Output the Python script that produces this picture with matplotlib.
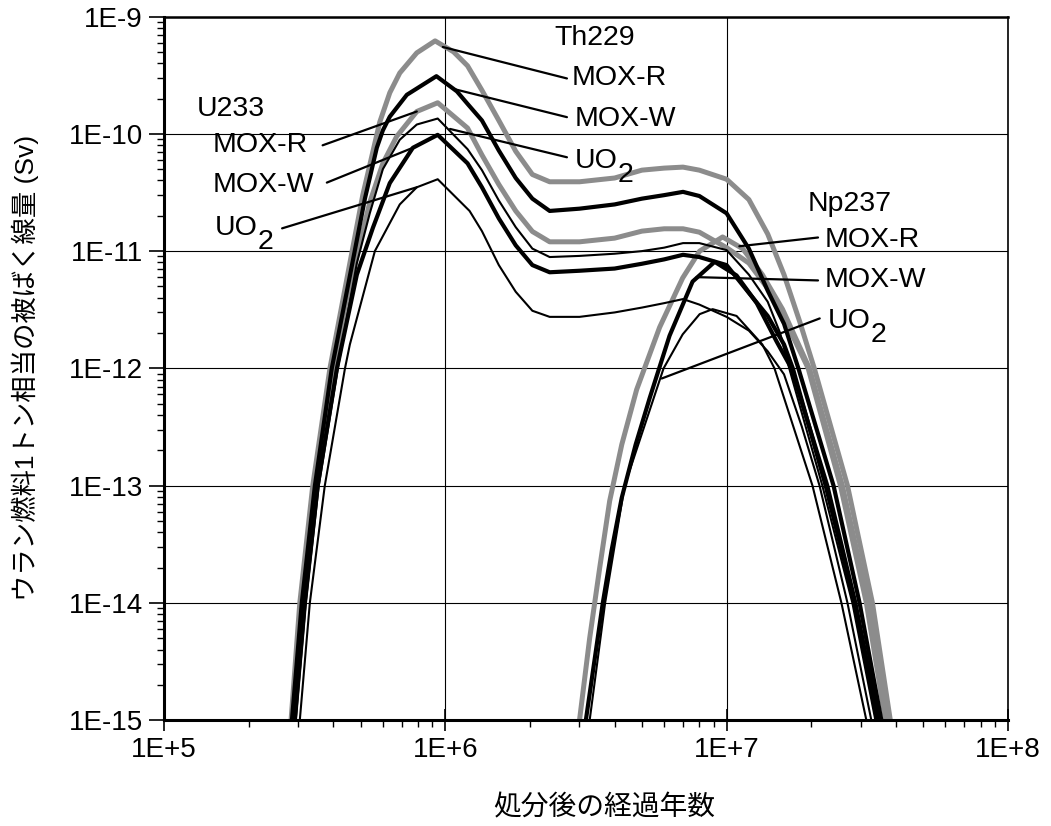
import matplotlib
matplotlib.use('Agg')
import matplotlib.pyplot as plt
import numpy as np
from matplotlib.ticker import LogLocator, NullFormatter

plt.rcParams['font.family'] = ['Liberation Sans', 'Noto Sans CJK JP']

# 軸の目盛り
x_ticks = [1e5, 1e6, 1e7, 1e8]
x_tick_labels = ['1E+5', '1E+6', '1E+7', '1E+8']
y_ticks = [1e-15, 1e-14, 1e-13, 1e-12, 1e-11, 1e-10, 1e-9]
y_tick_labels = ['1E-15', '1E-14', '1E-13', '1E-12', '1E-11', '1E-10', '1E-9']

# Th229 (年, Sv)
t_th_moxr = [2.83e5, 3.04e5, 3.38e5, 3.89e5, 4.58e5, 5.09e5, 5.85e5, 6.35e5, 6.89e5, 7.92e5, 9.2e5,
             1.07e6, 1.2e6, 1.35e6, 1.55e6, 1.78e6, 2.04e6, 2.35e6, 3e6, 4e6, 5e6, 6e6, 7e6,
             8e6, 1e7, 1.2e7, 1.4e7, 1.6e7, 1.82e7, 2.05e7, 2.69e7, 3.3e7, 3.82e7]
d_th_moxr = [1e-15, 1e-14, 1e-13, 1e-12, 7.9e-12, 3.0e-11, 1.26e-10, 2.24e-10, 3.3e-10, 4.9e-10, 6.2e-10,
             5.0e-10, 3.8e-10, 2.35e-10, 1.3e-10, 7.1e-11, 4.5e-11, 3.9e-11, 3.9e-11, 4.2e-11, 4.9e-11, 5.1e-11, 5.2e-11,
             4.9e-11, 4.1e-11, 2.75e-11, 1.4e-11, 6.3e-12, 2.5e-12, 1e-12, 1e-13, 1e-14, 1e-15]

t_th_moxw = [2.85e5, 3.09e5, 3.44e5, 3.95e5, 4.66e5, 5.18e5, 5.71e5, 6.0e5, 6.35e5, 7.3e5, 9.3e5,
             1.1e6, 1.2e6, 1.35e6, 1.55e6, 1.78e6, 2.04e6, 2.35e6, 3e6, 4e6, 5e6, 6e6, 7e6,
             8e6, 1e7, 1.2e7, 1.4e7, 1.6e7, 1.8e7, 2.4e7, 2.97e7, 3.55e7]
d_th_moxw = [1e-15, 1e-14, 1e-13, 1e-12, 7.6e-12, 2.8e-11, 7.6e-11, 1.07e-10, 1.4e-10, 2.15e-10, 3.1e-10,
             2.3e-10, 1.8e-10, 1.3e-10, 7.2e-11, 4.2e-11, 2.8e-11, 2.2e-11, 2.3e-11, 2.5e-11, 2.8e-11, 3.0e-11, 3.2e-11,
             2.95e-11, 2.1e-11, 1.05e-11, 4.6e-12, 2.4e-12, 1e-12, 1e-13, 1e-14, 1e-15]

t_th_uo2 = [2.94e5, 3.19e5, 3.55e5, 4.15e5, 4.85e5, 5.39e5, 6.0e5, 6.89e5, 7.92e5, 9.4e5,
            1.2e6, 1.35e6, 1.55e6, 1.78e6, 2.04e6, 2.35e6, 3e6, 4e6, 5e6, 6e6, 7e6, 8e6,
            1e7, 1.2e7, 1.4e7, 1.55e7, 1.67e7, 2.19e7, 2.8e7, 3.38e7]
d_th_uo2 = [1e-15, 1e-14, 1e-13, 1e-12, 7.9e-12, 2.1e-11, 5.0e-11, 8.9e-11, 1.2e-10, 1.35e-10,
            7.4e-11, 4.9e-11, 2.7e-11, 1.6e-11, 1.05e-11, 8.9e-12, 9.1e-12, 9.5e-12, 1.0e-11, 1.07e-11, 1.17e-11, 1.17e-11,
            1.02e-11, 6.3e-12, 3.7e-12, 2.0e-12, 1e-12, 1e-13, 1e-14, 1e-15]

# U233
t_u_moxr = [2.87e5, 3.12e5, 3.47e5, 4.02e5, 4.73e5, 5.39e5, 6.0e5, 6.72e5, 7.92e5, 9.4e5,
            1.2e6, 1.35e6, 1.55e6, 1.78e6, 2.04e6, 2.35e6, 3e6, 4e6, 5e6, 6e6, 7e6, 8e6,
            1e7, 1.2e7, 1.4e7, 1.6e7, 1.95e7, 2.54e7, 3.14e7, 3.67e7]
d_u_moxr = [1e-15, 1e-14, 1e-13, 1e-12, 7.1e-12, 2.6e-11, 5.6e-11, 9.5e-11, 1.55e-10, 1.84e-10,
            1.12e-10, 6.6e-11, 3.7e-11, 2.2e-11, 1.47e-11, 1.2e-11, 1.2e-11, 1.29e-11, 1.48e-11, 1.55e-11, 1.55e-11, 1.45e-11,
            1.07e-11, 7.9e-12, 4.8e-12, 2.7e-12, 1e-12, 1e-13, 1e-14, 1e-15]

t_u_moxw = [2.92e5, 3.17e5, 3.52e5, 4.12e5, 4.85e5, 5.53e5, 6.35e5, 7.67e5, 9.4e5,
            1.2e6, 1.35e6, 1.55e6, 1.78e6, 2.04e6, 2.35e6, 3e6, 4e6, 5e6, 6e6, 7e6, 8e6,
            1e7, 1.2e7, 1.4e7, 1.6e7, 1.72e7, 2.25e7, 2.85e7, 3.44e7]
d_u_moxw = [1e-15, 1e-14, 1e-13, 1e-12, 6.3e-12, 1.58e-11, 3.8e-11, 7.6e-11, 9.8e-11,
            5.6e-11, 3.5e-11, 1.9e-11, 1.12e-11, 7.6e-12, 6.6e-12, 6.8e-12, 7.1e-12, 7.8e-12, 8.5e-12, 9.3e-12, 8.9e-12,
            7.6e-12, 4.4e-12, 2.8e-12, 1.6e-12, 1e-12, 1e-13, 1e-14, 1e-15]

t_u_uo2 = [3.04e5, 3.30e5, 3.73e5, 4.4e5, 4.58e5, 5.62e5, 6.89e5, 7.92e5, 9.4e5,
           1.22e6, 1.35e6, 1.55e6, 1.78e6, 2.04e6, 2.35e6, 3e6, 4e6, 5e6, 6e6, 7e6, 8e6,
           1e7, 1.2e7, 1.4e7, 1.6e7, 1.85e7, 2.14e7, 2.69e7, 3.27e7]
d_u_uo2 = [1e-15, 1e-14, 1e-13, 1e-12, 1.6e-12, 1e-11, 2.5e-11, 3.5e-11, 4.1e-11,
           2.2e-11, 1.48e-11, 7.6e-12, 4.5e-12, 3.1e-12, 2.75e-12, 2.75e-12, 3.0e-12, 3.3e-12, 3.6e-12, 3.9e-12, 3.5e-12,
           2.75e-12, 2.1e-12, 1.4e-12, 8.9e-13, 3.2e-13, 1e-13, 1e-14, 1e-15]

# Np237
t_np_moxr = [3.0e6, 3.26e6, 3.54e6, 3.84e6, 4.24e6, 4.79e6, 5.78e6, 6.98e6, 8.02e6, 9.68e6, 1.14e7, 1.34e7,
             1.58e7, 1.97e7, 2.58e7, 3.19e7, 3.73e7]
d_np_moxr = [1e-15, 5e-15, 2e-14, 7.4e-14, 2.24e-13, 6.6e-13, 2.24e-12, 5.9e-12, 1e-11, 1.32e-11, 1.05e-11, 6.3e-12,
             3.2e-12, 1e-12, 1e-13, 1e-14, 1e-15]

t_np_moxw = [3.16e6, 3.63e6, 3.90e6, 4.24e6, 4.75e6, 5.33e6, 6.27e6, 7.57e6, 9.07e6, 1.085e7, 1.28e7, 1.505e7,
             1.7e7, 2.28e7, 2.87e7, 3.47e7]
d_np_moxw = [1e-15, 1e-14, 2.8e-14, 7.9e-14, 2.24e-13, 5.6e-13, 1.9e-12, 5.5e-12, 8.1e-12, 6.2e-12, 3.6e-12, 1.7e-12,
             1e-12, 1e-13, 1e-14, 1e-15]

t_np_uo2 = [3.26e6, 3.7e6, 4.34e6, 5.97e6, 6.98e6, 8.02e6, 8.92e6, 1.085e7, 1.34e7, 1.48e7,
            2.02e7, 2.56e7, 3.14e7]
d_np_uo2 = [1e-15, 1e-14, 1e-13, 1e-12, 1.95e-12, 2.9e-12, 3.2e-12, 2.8e-12, 1.6e-12, 1e-12,
            1e-13, 1e-14, 1e-15]

# 線の種類: MOX-R = 灰色の太線, MOX-W = 黒の太線, UO2 = 黒の細線
gray = dict(color='#8c8c8c', lw=3.6, solid_capstyle='butt', solid_joinstyle='round')
thick = dict(color='black', lw=3.0, solid_capstyle='butt', solid_joinstyle='round')
thin = dict(color='black', lw=1.5, solid_capstyle='butt', solid_joinstyle='round')

fig = plt.figure(figsize=(10.51, 8.26), dpi=100)
ax = fig.add_axes([0.156, 0.128, 0.803, 0.852])

ax.plot(t_th_moxr, d_th_moxr, **gray)
ax.plot(t_u_moxr, d_u_moxr, **gray)
ax.plot(t_np_moxr, d_np_moxr, **gray)
ax.plot(t_th_moxw, d_th_moxw, **thick)
ax.plot(t_u_moxw, d_u_moxw, **thick)
ax.plot(t_np_moxw, d_np_moxw, **thick)
ax.plot(t_th_uo2, d_th_uo2, **thin)
ax.plot(t_u_uo2, d_u_uo2, **thin)
ax.plot(t_np_uo2, d_np_uo2, **thin)

ax.set_xscale('log')
ax.set_yscale('log')
ax.set_xlim(1e5, 1e8)
ax.set_ylim(1e-15, 1e-9)
ax.set_xticks(x_ticks, x_tick_labels)
ax.set_yticks(y_ticks, y_tick_labels)
ax.xaxis.set_minor_locator(LogLocator(base=10, subs=np.arange(2, 10), numticks=20))
ax.yaxis.set_minor_locator(LogLocator(base=10, subs=np.arange(2, 10), numticks=20))
ax.xaxis.set_minor_formatter(NullFormatter())
ax.yaxis.set_minor_formatter(NullFormatter())
ax.tick_params(axis='x', which='major', direction='inout', length=16, width=1.2, labelsize=20, pad=4)
ax.tick_params(axis='y', which='major', direction='out', length=11, width=1.2, labelsize=20, pad=4)
ax.tick_params(which='minor', direction='out', length=5, width=1.0)
ax.grid(True, which='major', color='black', lw=0.8)

for side, w in [('left', 2.2), ('bottom', 2.2), ('top', 1.8), ('right', 1.2)]:
    ax.spines[side].set_linewidth(w)

ax.set_xlabel('処分後の経過年数', fontsize=20)
ax.xaxis.set_label_coords(0.522, -0.107)
ax.set_ylabel('ウラン燃料1トン相当の被ばく線量 (Sv)', fontsize=19)
ax.yaxis.set_label_coords(-0.148, 0.50)

fs = 20.5


def label(x, y, s):
    ax.text(x, y, s, transform=ax.transAxes, fontsize=fs, ha='left', va='center')


def uo2(x, y):
    label(x, y, 'UO')
    ax.text(x + 0.051, y - 0.02, '2', transform=ax.transAxes, fontsize=fs, ha='left', va='center')


def leader(start, end):
    ax.annotate('', xy=end, xycoords='data', xytext=start, textcoords='axes fraction',
                arrowprops=dict(arrowstyle='-', lw=1.6, color='black', shrinkA=0, shrinkB=0))


# Th229
label(0.463, 0.970, 'Th229')
label(0.483, 0.913, 'MOX-R')
label(0.487, 0.855, 'MOX-W')
uo2(0.487, 0.795)
leader((0.4775, 0.912), (9.8e5, 5.5e-10))
leader((0.4775, 0.857), (1.08e6, 2.4e-10))
leader((0.4775, 0.800), (1.04e6, 1.1e-10))

# U233
label(0.039, 0.869, 'U233')
label(0.058, 0.817, 'MOX-R')
label(0.058, 0.760, 'MOX-W')
uo2(0.060, 0.699)
leader((0.188, 0.817), (7.92e5, 1.55e-10))
leader((0.193, 0.764), (7.67e5, 7.6e-11))
leader((0.140, 0.699), (7.92e5, 3.5e-11))

# Np237
label(0.763, 0.733, 'Np237')
label(0.783, 0.682, 'MOX-R')
label(0.783, 0.626, 'MOX-W')
uo2(0.786, 0.568)
leader((0.775, 0.686), (1.11e7, 1.1e-11))
leader((0.775, 0.625), (7.82e6, 6.0e-12))
leader((0.777, 0.571), (5.88e6, 8.2e-13))

fig.savefig('out.png', dpi=100)
